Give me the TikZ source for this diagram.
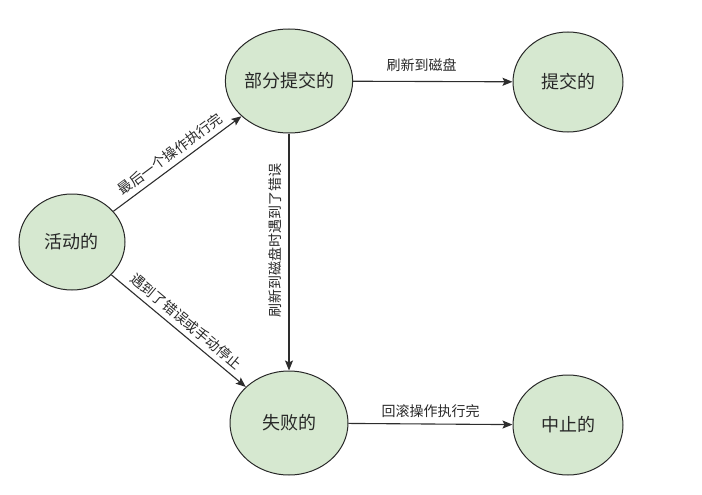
\documentclass[tikz,border=0pt]{standalone}
\usepackage{fontspec}
\setmainfont{Noto Sans CJK SC}
\usepackage{xcolor}
\usetikzlibrary{positioning, arrows.meta, shapes.geometric}
\definecolor{ink}{RGB}{40,40,40}
\definecolor{leaf}{RGB}{214,232,208}
\definecolor{wire}{RGB}{45,45,45}

\begin{document}
\begin{tikzpicture}[x=1pt, y=-1pt,
    state/.style={ellipse, draw=ink, line width=1pt, fill=leaf, text=ink,
                  font=\fontsize{18}{20}\selectfont, inner sep=0pt,
                  minimum width=110pt, minimum height=100pt},
    wide/.style={state, minimum width=118pt, minimum height=104pt},
    go/.style={-{Stealth[length=10pt, width=8pt, inset=2pt]}, draw=wire, line width=1.1pt},
    lbl/.style={font=\fontsize{14}{16}\selectfont, text=ink, inner sep=3pt}
  ]
  \useasboundingbox (0,0) rectangle (702,495);

  % states
  \node[state, minimum width=106pt, minimum height=96pt] (active) at (72,242) {活动的};
  \node[wide] (partial) at (289,81) {部分提交的};
  \node[state] (committed) at (568,82) {提交的};
  \node[wide] (failed) at (289,423) {失败的};
  \node[state] (aborted) at (568,425) {中止的};

  % transitions
  \draw[go] (active) -- node[lbl, midway, sloped, above, yshift=2pt] {最后一个操作执行完} (partial);
  \draw[go] (active) -- node[lbl, midway, sloped, above, yshift=2pt] {遇到了错误或手动停止} (failed);
  \draw[go] (partial) -- node[lbl, pos=0.43, above, yshift=6pt] {刷新到磁盘} (committed);
  \draw[go] (partial) -- node[lbl, pos=0.45, rotate=90, anchor=south, yshift=4pt] {刷新到磁盘时遇到了错误} (failed);
  \draw[go] (failed) -- node[lbl, pos=0.5, above, yshift=3pt] {回滚操作执行完} (aborted);
\end{tikzpicture}
\end{document}
